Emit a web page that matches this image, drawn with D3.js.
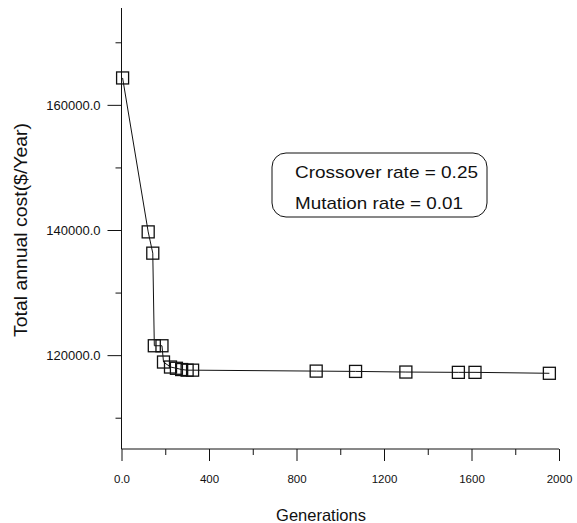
<!DOCTYPE html>
<html>
<head>
<meta charset="utf-8">
<script src="https://cdn.jsdelivr.net/npm/d3@7"></script>
<style>
  html, body { margin: 0; padding: 0; background: #fff; }
  svg text { font-family: "Liberation Sans", Arial, sans-serif; fill: #111; }
</style>
</head>
<body>
<svg id="chart" width="577" height="523"></svg>
<script>
"use strict";

// data
const generations = [5, 122, 143, 150, 185, 192, 224, 251, 275, 300, 325, 890, 1070, 1300, 1540, 1616, 1956];
const costs = [164300, 139700, 136300, 121500, 121500, 118900, 118100, 117900, 117700, 117600, 117600,
  117450, 117400, 117300, 117250, 117250, 117100];

const xMajorTicks = [0, 400, 800, 1200, 1600, 2000];
const xMinorTicks = [200, 600, 1000, 1400, 1800];
const yMajorTicks = [120000, 140000, 160000];
const yMinorTicks = [110000, 130000, 150000, 170000];
const annotation = ["Crossover rate = 0.25", "Mutation rate = 0.01"];

const svg = d3.select("#chart");

const x = d3.scaleLinear().domain([0, 2000]).range([121.5, 559]);
const y = d3.scaleLinear().domain([105000, 175000]).range([449, 11]);

const ink = "#111";

// x axis: major ticks with labels, minor ticks without
const xAxis = d3.axisBottom(x)
  .tickValues(xMajorTicks)
  .tickSize(12)
  .tickPadding(14)
  .tickFormat((d) => d === 0 ? "0.0" : d3.format("d")(d));

const gx = svg.append("g").attr("transform", `translate(0,${y.range()[0]})`).call(xAxis);
gx.select(".domain").attr("d", `M${x.range()[0]},0H${x.range()[1]}`);

svg.append("g").attr("transform", `translate(0,${y.range()[0]})`)
  .call(d3.axisBottom(x).tickValues(xMinorTicks).tickSize(6).tickFormat(""))
  .select(".domain").remove();

// y axis
const yAxis = d3.axisLeft(y)
  .tickValues(yMajorTicks)
  .tickSize(14)
  .tickPadding(7)
  .tickFormat((d) => d3.format(".1f")(d));

const gy = svg.append("g").attr("transform", `translate(${x.range()[0]},0)`).call(yAxis);
gy.select(".domain").attr("d", `M0,${y.range()[0]}V${y.range()[1] - 3}`);

svg.append("g").attr("transform", `translate(${x.range()[0]},0)`)
  .call(d3.axisLeft(y).tickValues(yMinorTicks).tickSize(6).tickFormat(""))
  .select(".domain").remove();

svg.selectAll(".domain, .tick line").attr("stroke", ink).attr("stroke-width", 1);
gx.selectAll(".tick text").attr("font-size", 11.5).attr("font-family", "Liberation Sans, Arial, sans-serif").attr("fill", ink);
gy.selectAll(".tick text").attr("font-size", 13).attr("font-family", "Liberation Sans, Arial, sans-serif").attr("fill", ink);

// axis titles
svg.append("text")
  .attr("x", 321).attr("y", 521)
  .attr("text-anchor", "middle")
  .attr("font-size", 16.5)
  .text("Generations");

svg.append("text")
  .attr("transform", "translate(21,230) rotate(-90)")
  .attr("text-anchor", "middle")
  .attr("dominant-baseline", "central")
  .attr("font-size", 17.5)
  .attr("textLength", 214)
  .attr("lengthAdjust", "spacingAndGlyphs")
  .text("Total annual cost($/Year)");

// series line + square markers
const points = generations.map((g, i) => ({ g, c: costs[i] }));

svg.append("path")
  .datum(points)
  .attr("fill", "none")
  .attr("stroke", ink)
  .attr("stroke-width", 1)
  .attr("d", d3.line().x((d) => x(d.g)).y((d) => y(d.c)));

const half = 6;
svg.append("g").selectAll("rect")
  .data(points)
  .join("rect")
  .attr("x", (d) => x(d.g) - half)
  .attr("y", (d) => y(d.c) - half)
  .attr("width", half * 2)
  .attr("height", half * 2)
  .attr("fill", "none")
  .attr("stroke", ink)
  .attr("stroke-width", 1.3);

// annotation box
const box = svg.append("g");
box.append("rect")
  .attr("x", 272).attr("y", 153)
  .attr("width", 215).attr("height", 64)
  .attr("rx", 14).attr("ry", 14)
  .attr("fill", "#fff")
  .attr("stroke", ink)
  .attr("stroke-width", 1);

const lineWidths = [183, 168];
box.selectAll("text")
  .data(annotation)
  .join("text")
  .attr("x", 295)
  .attr("y", (d, i) => 178 + i * 31)
  .attr("font-size", 17)
  .attr("textLength", (d, i) => lineWidths[i])
  .attr("lengthAdjust", "spacingAndGlyphs")
  .text((d) => d);
</script>
</body>
</html>
